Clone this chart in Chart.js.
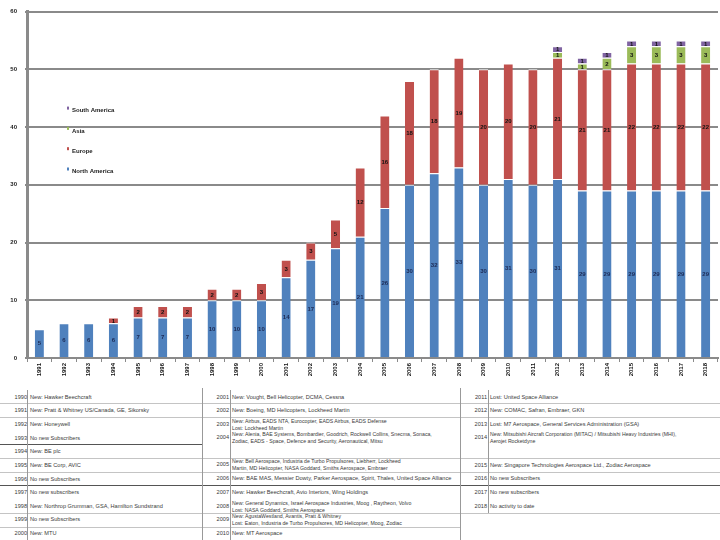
<!DOCTYPE html>
<html>
<head>
<meta charset="utf-8">
<script src="https://cdn.jsdelivr.net/npm/chart.js@4.4.0/dist/chart.umd.min.js"></script>
<style>
    body { margin: 0; background: #fff; width: 720px; height: 540px; overflow: hidden; position: relative; font-family: Arial, "Liberation Sans", sans-serif; }
    #wrap { position: absolute; left: 0; top: 0; width: 720px; height: 385px; }
    .t { position: absolute; font-size: 5.6px; color: #3a3a3a; white-space: nowrap; line-height: 6px; }
    .y { text-align: right; width: 24px; }
    .hl { position: absolute; height: 1px; background: #c4c4c4; }
    .hl.dark { background: #555; }
    .vl { position: absolute; width: 1px; background: #999; }
</style>
</head>
<body>
<div id="wrap"><canvas id="Chart" width="720" height="385"></canvas></div>
<div id="table"></div>
<script>
// chart values
const years = ['1991', '1992', '1993', '1994', '1995', '1996', '1997', '1998', '1999', '2000',
    '2001', '2002', '2003', '2004', '2005', '2006', '2007', '2008', '2009', '2010',
    '2011', '2012', '2013', '2014', '2015', '2016', '2017', '2018'];
const northAmerica = [5, 6, 6, 6, 7, 7, 7, 10, 10, 10, 14, 17, 19, 21, 26, 30, 32, 33, 30, 31, 30, 31, 29, 29, 29, 29, 29, 29];
const europe = [0, 0, 0, 1, 2, 2, 2, 2, 2, 3, 3, 3, 5, 12, 16, 18, 18, 19, 20, 20, 20, 21, 21, 21, 22, 22, 22, 22];
const asia = [0, 0, 0, 0, 0, 0, 0, 0, 0, 0, 0, 0, 0, 0, 0, 0, 0, 0, 0, 0, 0, 1, 1, 2, 3, 3, 3, 3];
const southAmerica = [0, 0, 0, 0, 0, 0, 0, 0, 0, 0, 0, 0, 0, 0, 0, 0, 0, 0, 0, 0, 0, 1, 1, 1, 1, 1, 1, 1];
const yTicks = [0, 10, 20, 30, 40, 50, 60];

// table rows: [column, year, lines, centre y]
const notes = [
    [0, '1990', ['New: Hawker Beechcraft'], 397],
    [0, '1991', ['New: Pratt & Whitney US/Canada, GE, Sikorsky'], 410],
    [0, '1992', ['New: Honeywell'], 424],
    [0, '1993', ['No new Subscribers'], 438],
    [0, '1994', ['New: BE plc'], 451],
    [0, '1995', ['New: BE Corp, AVIC'], 465],
    [0, '1996', ['No new Subscribers'], 479],
    [0, '1997', ['No new subscribers'], 492],
    [0, '1998', ['New: Northrop Grumman, GSA, Hamilton Sundstrand'], 506],
    [0, '1999', ['No new Subscribers'], 519],
    [0, '2000', ['New: MTU'], 533],
    [1, '2001', ['New: Vought, Bell Helicopter, DCMA, Cessna'], 397],
    [1, '2002', ['New: Boeing, MD Helicopters, Lockheed Martin'], 410],
    [1, '2003', ['New: Airbus, EADS NTA, Eurocopter, EADS Airbus, EADS Defense', 'Lost: Lockheed Martin'], 424],
    [1, '2004', ['New: Alenia, BAE Systems, Bombardier, Goodrich, Rockwell Collins, Snecma, Sonaca,', 'Zodiac, EADS - Space, Defence and Security, Aeronautical, Mitsu'], 437],
    [1, '2005', ['New: Bell Aerospace, Industria de Turbo Propulsores, Liebherr, Lockheed', 'Martin, MD Helicopter, NASA Goddard, Smiths Aerospace, Embraer'], 464],
    [1, '2006', ['New: BAE MAS, Messier Dowty, Parker Aerospace, Spirit, Thales, United Space Alliance'], 478],
    [1, '2007', ['New: Hawker Beechcraft, Avio Interiors, Wing Holdings'], 492],
    [1, '2008', ['New: General Dynamics, Israel Aerospace Industries, Moog , Raytheon, Volvo', 'Lost: NASA Goddard, Smiths Aerospace'], 506],
    [1, '2009', ['New: AgustaWestland, Avantis, Pratt & Whitney', 'Lost: Eaton, Industria de Turbo Propulsores, MD Helicopter, Moog, Zodiac'], 519],
    [1, '2010', ['New: MT Aerospace'], 533],
    [2, '2011', ['Lost: United Space Alliance'], 397],
    [2, '2012', ['New: COMAC, Safran, Embraer, GKN'], 410],
    [2, '2013', ['Lost: M7 Aerospace, General Services Administration (GSA)'], 424],
    [2, '2014', ['New: Mitsubishi Aircraft Corporation (MITAC) / Mitsubishi Heavy Industries (MHI),', 'Aerojet Rocketdyne'], 437],
    [2, '2015', ['New: Singapore Technologies Aerospace Ltd., Zodiac Aerospace'], 465],
    [2, '2016', ['No new Subscribers'], 478],
    [2, '2017', ['No new subscribers'], 492],
    [2, '2018', ['No activity to date'], 506]
];

const colX = [3, 205, 463];

function buildTable() {
    var html = '';
    // grid lines: [x, y, w, dark]
    var hLines = [[0, 403, 720], [0, 417, 720], [0, 444, 202, true], [0, 458, 720], [0, 472, 720],
        [0, 485, 720, true], [0, 513, 720], [0, 527, 460]];
    hLines.forEach(function (l) {
        html += '<div class="hl' + (l[3] ? ' dark' : '') + '" style="left:' + l[0] + 'px;top:' + l[1] + 'px;width:' + l[2] + 'px"></div>';
    });
    var vLines = [[27, 390, 150], [202, 388, 152], [230, 390, 150], [460, 388, 152], [488, 390, 123]];
    vLines.forEach(function (l) {
        html += '<div class="vl" style="left:' + l[0] + 'px;top:' + l[1] + 'px;height:' + l[2] + 'px"></div>';
    });
    notes.forEach(function (n) {
        var x = colX[n[0]];
        html += '<div class="t y" style="left:' + x + 'px;top:' + (n[3] - 3) + 'px">' + n[1] + '</div>';
        var lines = n[2];
        var top = lines.length > 1 ? n[3] - 6.5 : n[3] - 3;
        lines.forEach(function (s, i) {
            html += '<div class="t" style="left:' + (x + 27) + 'px;top:' + (top + i * 7) + 'px' +
                (lines.length > 1 ? ';font-size:5.2px' : '') + '">' + s.replace(/&/g, '&amp;') + '</div>';
        });
    });
    document.getElementById('table').innerHTML = html;
}

const segmentLabels = {
    id: 'segmentLabels',
    afterDatasetsDraw(chart) {
        const ctx = chart.ctx;
        ctx.save();
        ctx.font = 'bold 6px Arial';
        ctx.textAlign = 'center';
        ctx.textBaseline = 'middle';
        chart.data.datasets.forEach(function (ds, i) {
            chart.getDatasetMeta(i).data.forEach(function (bar, j) {
                const v = ds.data[j];
                if (!v) return;
                ctx.fillStyle = i === 0 ? '#1c2a55' : '#111';
                ctx.fillText(String(v), bar.x, (bar.y + bar.base) / 2 + 0.5);
            });
        });
        ctx.restore();
    }
};

const sideLegend = {
    id: 'sideLegend',
    afterDraw(chart) {
        const ctx = chart.ctx;
        const area = chart.chartArea;
        const items = chart.data.datasets.slice().reverse();
        ctx.save();
        ctx.font = 'bold 6px Arial';
        ctx.textBaseline = 'middle';
        items.forEach(function (ds, i) {
            const y = area.top + 98 + i * 20.3;
            ctx.fillStyle = ds.backgroundColor;
            ctx.fillRect(area.left + 40, y - 3, 2, 3);
            ctx.fillStyle = '#222';
            ctx.fillText(ds.label, area.left + 45, y + 1);
        });
        ctx.restore();
    }
};

function makeChart() {
    var ctx = document.getElementById('Chart').getContext('2d');
    var bar = function (label, data, color) {
        return {
            label: label,
            data: data,
            backgroundColor: color,
            borderColor: '#ffffff',
            borderWidth: { top: 1, left: 0, right: 0, bottom: 0 },
            borderSkipped: false,
            barPercentage: 0.37,
            categoryPercentage: 1
        };
    };
    new Chart(ctx, {
        type: 'bar',
        data: {
            labels: years,
            datasets: [
                bar('North America', northAmerica, '#4f81bd'),
                bar('Europe', europe, '#c0504d'),
                bar('Asia', asia, '#9bbb59'),
                bar('South America', southAmerica, '#8064a2')
            ]
        },
        options: {
            responsive: false,
            animation: false,
            layout: { padding: { top: 9, right: 2, left: 0, bottom: 0 } },
            plugins: { legend: { display: false }, tooltip: { enabled: false } },
            scales: {
                x: {
                    stacked: true,
                    afterFit: function (s) { s.height = 27; },
                    grid: { drawOnChartArea: false, color: '#8a8a8a', tickLength: 4, lineWidth: 1, offset: true },
                    border: { color: '#8a8a8a', width: 2 },
                    ticks: {
                        minRotation: 90, maxRotation: 90, autoSkip: false, padding: 1,
                        color: '#111', font: { size: 6, weight: 'bold', family: 'Arial' }
                    }
                },
                y: {
                    stacked: true,
                    min: 0, max: 60,
                    afterFit: function (s) { s.width = 27; },
                    afterBuildTicks: function (s) { s.ticks = yTicks.map(function (v) { return { value: v }; }); },
                    grid: { color: '#8a8a8a', lineWidth: 2, tickLength: 2 },
                    border: { color: '#8a8a8a', width: 3 },
                    ticks: { padding: 8, color: '#222', font: { size: 6, weight: 'bold', family: 'Arial' } }
                }
            }
        },
        plugins: [segmentLabels, sideLegend]
    });
}

buildTable();
makeChart();
</script>
</body>
</html>
